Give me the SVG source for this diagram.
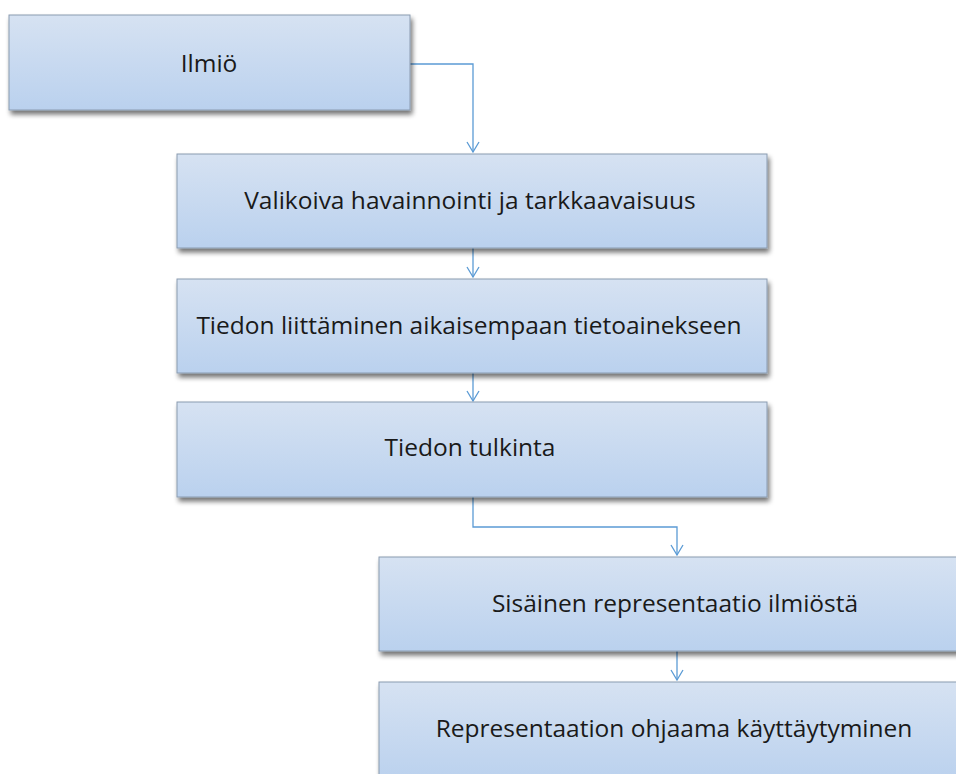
<svg xmlns="http://www.w3.org/2000/svg" width="956" height="774" viewBox="0 0 956 774">
<defs>
<linearGradient id="g" x1="0" y1="0" x2="0" y2="1">
<stop offset="0" stop-color="#d6e2f2"/>
<stop offset="1" stop-color="#bad1ee"/>
</linearGradient>
<filter id="sh" x="-5%" y="-10%" width="115%" height="130%">
<feGaussianBlur in="SourceAlpha" stdDeviation="2.5"/>
<feOffset dx="2" dy="4" result="b"/>
<feComponentTransfer><feFuncA type="linear" slope="0.55"/></feComponentTransfer>
<feMerge><feMergeNode/><feMergeNode in="SourceGraphic"/></feMerge>
</filter>
<marker id="arr" markerWidth="14" markerHeight="14" refX="12" refY="7" orient="auto" markerUnits="userSpaceOnUse" viewBox="0 0 14 14">
<path d="M2,1 L12,7 L2,13" fill="none" stroke="#5b9bd5" stroke-width="1.3"/>
</marker>
<style>
.box{fill:url(#g);stroke:#8a9bb0;stroke-width:1;filter:url(#sh)}
.t{font-family:"Open Sans","Liberation Sans",sans-serif;font-size:24.5px;fill:#1a1a1a;text-anchor:middle;dominant-baseline:central}
.c{fill:none;stroke:#5b9bd5;stroke-width:1.3}
</style>
</defs>
<rect width="956" height="774" fill="#ffffff"/>
<g id="connectors">
<path class="c" d="M410,64 H473 V152" marker-end="url(#arr)"/>
<path class="c" d="M473,248 V277" marker-end="url(#arr)"/>
<path class="c" d="M473,373 V401" marker-end="url(#arr)"/>
<path class="c" d="M473,497 V527 H677 V555" marker-end="url(#arr)"/>
<path class="c" d="M677,651 V680" marker-end="url(#arr)"/>
</g>
<g id="n1"><rect class="box" x="9" y="15" width="401" height="95"/><text class="t" x="209" y="62">Ilmiö</text></g>
<g id="n2"><rect class="box" x="177" y="154" width="590" height="94"/><text class="t" x="470" y="199">Valikoiva havainnointi ja tarkkaavaisuus</text></g>
<g id="n3"><rect class="box" x="177" y="279" width="590" height="94"/><text class="t" x="469" y="324">Tiedon liittäminen aikaisempaan tietoainekseen</text></g>
<g id="n4"><rect class="box" x="177" y="402" width="590" height="95"/><text class="t" x="470" y="446">Tiedon tulkinta</text></g>
<g id="n5"><rect class="box" x="379" y="557" width="590" height="94"/><text class="t" x="675" y="602">Sisäinen representaatio ilmiöstä</text></g>
<g id="n6"><rect class="box" x="379" y="682" width="590" height="100"/><text class="t" x="674" y="727">Representaation ohjaama käyttäytyminen</text></g>
</svg>
